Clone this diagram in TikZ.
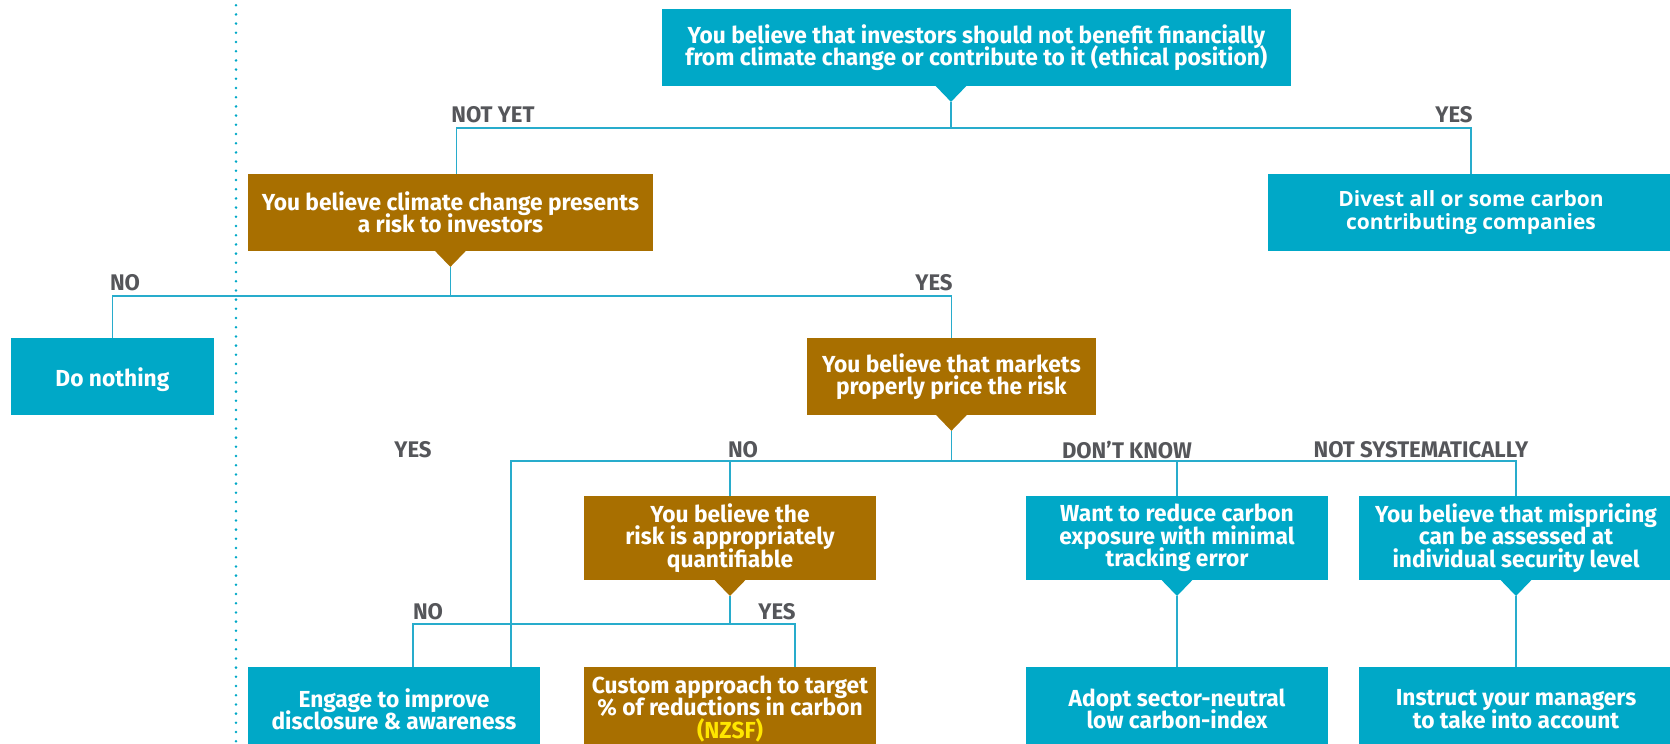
\documentclass[tikz,border=0pt]{standalone}
\usepackage{fontspec}
\newfontfamily\condfont{Fira Sans}[FakeStretch=0.98]
\newfontfamily\widefont{Open Sans}
\usetikzlibrary{positioning,calc}

\definecolor{boxblue}{RGB}{0,168,199}
\definecolor{boxbrown}{RGB}{168,111,0}
\definecolor{linkblue}{RGB}{40,172,204}
\definecolor{replygray}{RGB}{85,86,90}
\definecolor{nzsfyellow}{RGB}{255,230,0}

% tight leading inside the boxes
\newcommand{\tightlines}{\setlength{\lineskiplimit}{-20pt}}

% pointer under a question box: base point, colour, name of the tip
\newcommand{\boxtip}[3]{%
  \fill[#2] ([xshift=-8pt,yshift=0.3pt]#1) -- ([xshift=8pt,yshift=0.3pt]#1)
    -- ([yshift=-8pt]#1) coordinate (#3) -- cycle;}

\begin{document}
\begin{tikzpicture}
[x=1pt, y=1pt,
% STYLES
every node/.style={outer sep=0pt},
% The bluebox style is used for questions and outcomes in blue
bluebox/.style={rectangle, fill=boxblue, text=white, align=center, inner sep=2pt, font=\condfont\bfseries\fontsize{11.6}{11.2}\selectfont\tightlines, execute at begin node={\rule{0pt}{12.3pt}}},
% The brownbox style is used for the brown questions
brownbox/.style={bluebox, fill=boxbrown},
% The reply style is used for the answers on the branches
reply/.style={text=replygray, inner sep=0pt, font=\condfont\bfseries\fontsize{11.3}{12}\selectfont},
link/.style={draw=linkblue, line width=0.75pt},
elbow/.style={to path={-| (\tikztotarget)}},
divider/.style={draw=boxblue, line width=1.4pt, line cap=round, dash pattern=on 0pt off 4.6pt}]

\useasboundingbox (0,0) rectangle (835,-372);
\clip (0,0) rectangle (835,-372);

% Draw boxes
\node [bluebox, minimum width=314.5pt, minimum height=38.5pt] (ethic) at (488.2,-23.7) {You believe that investors should not benefit financially\\from climate change or contribute to it (ethical position)};
\node [brownbox, minimum width=202.5pt, minimum height=38.5pt] (risk) at (225.2,-106.2) {You believe climate change presents\\a risk to investors};
\node [bluebox, minimum width=203pt, minimum height=38.5pt, font=\widefont\bfseries\fontsize{10.5}{11.5}\selectfont\tightlines, execute at begin node={\rule{0pt}{10pt}}] (divest) at (735.5,-106.2) {Divest all or some carbon\\contributing companies};
\node [bluebox, minimum width=101.5pt, minimum height=38.5pt] (donothing) at (56.2,-188.2) {Do nothing};
\node [brownbox, minimum width=144.5pt, minimum height=38.5pt] (markets) at (475.7,-188.2) {You believe that markets\\properly price the risk};
\node [brownbox, minimum width=146pt, minimum height=42pt] (quant) at (365,-269) {You believe the\\risk is appropriately\\quantifiable};
\node [bluebox, minimum width=151pt, minimum height=42pt, right=75pt of quant] (want) {Want to reduce carbon\\exposure with minimal\\tracking error};
\node [bluebox, minimum width=157pt, minimum height=42pt, right=15.5pt of want] (misp) {You believe that mispricing\\can be assessed at\\individual security level};
\node [brownbox, minimum width=146pt, minimum height=42pt, below=43.5pt of quant] (custom) {Custom approach to target\\\% of reductions in carbon\\\textcolor{nzsfyellow}{(NZSF)}};
\node [bluebox, minimum width=146pt, minimum height=42pt, left=22pt of custom] (engage) {Engage to improve\\disclosure \& awareness};
\node [bluebox, minimum width=151pt, minimum height=42pt, below=43.5pt of want] (adopt) {Adopt sector-neutral\\low carbon-index};
\node [bluebox, minimum width=157pt, minimum height=42pt, below=43.5pt of misp] (instruct) {Instruct your managers\\to take into account};

% Pointers
\coordinate (ethicbase) at ([xshift=-12.7pt]ethic.south);
\boxtip{ethicbase}{boxblue}{ethictip}
\boxtip{risk.south}{boxbrown}{risktip}
\boxtip{markets.south}{boxbrown}{marketstip}
\boxtip{quant.south}{boxbrown}{quanttip}
\boxtip{want.south}{boxblue}{wanttip}
\boxtip{misp.south}{boxblue}{misptip}

% Branch points
\coordinate [below=13pt of ethictip] (ethicbus);
\coordinate [below=14.5pt of risktip] (riskbus);
\coordinate [below=15pt of marketstip] (marketsbus);
\coordinate [below=14pt of quanttip] (quantbus);

% Answers
\node [reply] (notyet) at (246.5,-57.5) {NOT YET};
\node [reply] (ethicyes) at (727,-57.5) {YES};
\node [reply] (riskno) at (62.5,-141.5) {NO};
\node [reply] (riskyes) at (467,-141.5) {YES};
\node [reply] (marketsyes) at (206.5,-225) {YES};
\node [reply] (marketsno) at (371.5,-225) {NO};
\node [reply] (dontknow) at (563.5,-225) {DON’T KNOW};
\node [reply] (notsyst) at (710.5,-225) {NOT SYSTEMATICALLY};
\node [reply] (quantno) at (214,-306) {NO};
\node [reply] (quantyes) at (388.5,-306) {YES};

% Dotted divider
\draw [divider] (118,2) -- (118,-374);

% Draw the links between boxes
\path [link]
(ethictip) edge (ethicbus)
(ethicbus) edge[elbow] ([xshift=3pt]risk.north)
(ethicbus) edge[elbow] (divest.north)
(risktip) edge (riskbus)
(riskbus) edge[elbow] (donothing.north)
(riskbus) edge[elbow] (markets.north)
(marketstip) edge (marketsbus)
(marketsbus) edge[elbow] ([xshift=58.5pt]engage.north)
(marketsbus) edge[elbow] (quant.north)
(marketsbus) edge[elbow] (want.north)
(marketsbus) edge[elbow] (misp.north)
(quanttip) edge (quantbus)
(quantbus) edge[elbow] ([xshift=9.5pt]engage.north)
(quantbus) edge[elbow] ([xshift=32.5pt]custom.north)
(wanttip) edge (adopt.north)
(misptip) edge (instruct.north);

\end{tikzpicture}
\end{document}
